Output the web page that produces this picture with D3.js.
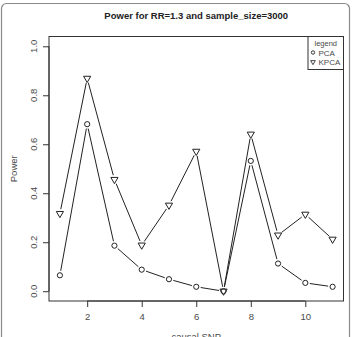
<!DOCTYPE html>
<html>
<head>
<meta charset="utf-8">
<script src="https://cdn.jsdelivr.net/npm/d3@7"></script>
<style>
  body { margin: 0; background: #fff; }
  text { font-family: "Liberation Sans", Arial, sans-serif; }
</style>
</head>
<body>
<div id="chart"></div>
<script>
// data
var snps = [1, 2, 3, 4, 5, 6, 7, 8, 9, 10, 11];
var pcaPower = [0.065, 0.682, 0.186, 0.088, 0.049, 0.018, 0.0, 0.532, 0.113, 0.034, 0.018];
var kpcaPower = [0.317, 0.869, 0.456, 0.188, 0.351, 0.571, 0.0, 0.641, 0.229, 0.314, 0.212];
var xTicks = [2, 4, 6, 8, 10];
var yTicks = [0.0, 0.2, 0.4, 0.6, 0.8, 1.0];
var legendNames = ["PCA", "KPCA"];

var W = 352, H = 337;
var margin = {top: 36.5, right: 8.5, bottom: 36, left: 49};
var width = W - margin.left - margin.right,
    height = H - margin.top - margin.bottom;

var svg = d3.select("#chart").append("svg").attr("width", W).attr("height", H);

// outer frame of the screenshot
svg.append("rect")
    .attr("x", 1.5).attr("y", 3.5).attr("width", 348).attr("height", 345)
    .attr("rx", 5)
    .style("fill", "none").style("stroke", "#8a8a8a").style("stroke-width", 1.2);

// R style 4% padding
var x = d3.scaleLinear().domain([1 - 0.4, 11 + 0.4]).range([0, width]);
var y = d3.scaleLinear().domain([0 - 0.04, 1 + 0.04]).range([height, 0]);

var g = svg.append("g").attr("transform", "translate(" + margin.left + "," + margin.top + ")");

var textColor = "#4a4a4a";

// box
g.append("rect")
    .attr("x", 0).attr("y", 0).attr("width", width).attr("height", height)
    .style("fill", "none").style("stroke", "#333").style("stroke-width", 1);

// x axis
var x_g = g.append("g")
    .attr("transform", "translate(0," + height + ")")
    .call(d3.axisBottom(x).tickValues(xTicks).tickSize(6).tickPadding(6).tickFormat(d3.format("d")));
x_g.select(".domain").attr("d", "M" + x(2) + ",0H" + x(10)).style("stroke", "#333");
x_g.selectAll("line").style("stroke", "#333");
x_g.selectAll("text").style("fill", textColor).style("font-size", "9.5px")
    .style("font-family", "'Liberation Sans', Arial, sans-serif");

// y axis: ticks from d3, labels drawn rotated as in base R
var y_g = g.append("g")
    .call(d3.axisLeft(y).tickValues(yTicks).tickSize(6).tickFormat(""));
y_g.select(".domain").attr("d", "M0," + y(0) + "V" + y(1)).style("stroke", "#333");
y_g.selectAll("line").style("stroke", "#333");
svg.selectAll(".ylab").data(yTicks).enter().append("text")
    .attr("class", "ylab")
    .attr("x", 0).attr("y", 0)
    .attr("transform", function (d) {
        return "translate(" + (margin.left - 12) + "," + (margin.top + y(d)) + ") rotate(-90)";
    })
    .attr("text-anchor", "middle")
    .style("fill", textColor).style("font-size", "9.5px")
    .text(function (d) { return d3.format(".1f")(d); });

// title and axis labels
svg.append("text")
    .attr("x", margin.left + width / 2).attr("y", 19)
    .attr("text-anchor", "middle")
    .style("font-weight", "bold").style("font-size", "9.5px").style("fill", "#222")
    .text("Power for RR=1.3 and sample_size=3000");

svg.append("text")
    .attr("transform", "translate(17," + (margin.top + height / 2) + ") rotate(-90)")
    .attr("text-anchor", "middle")
    .style("font-size", "9.5px").style("fill", textColor)
    .text("Power");

svg.append("text")
    .attr("x", margin.left + width / 2).attr("y", 340)
    .attr("text-anchor", "middle")
    .style("font-size", "9.5px").style("fill", textColor)
    .text("causal SNP");

// type = "b": segments with a gap around each point
function drawSegments(values, gap) {
    for (var i = 0; i < values.length - 1; i++) {
        var x0 = x(snps[i]), y0 = y(values[i]), x1 = x(snps[i + 1]), y1 = y(values[i + 1]);
        var dx = x1 - x0, dy = y1 - y0, len = Math.sqrt(dx * dx + dy * dy);
        if (len <= 2 * gap) continue;
        var ux = dx / len, uy = dy / len;
        g.append("line")
            .attr("x1", x0 + ux * gap).attr("y1", y0 + uy * gap)
            .attr("x2", x1 - ux * gap).attr("y2", y1 - uy * gap)
            .style("stroke", "#222").style("stroke-width", 1);
    }
}
drawSegments(pcaPower, 4.5);
drawSegments(kpcaPower, 4.5);

var tri = "M-3.6,-2.1L3.6,-2.1L0,4.1Z";

g.selectAll(".pca").data(pcaPower).enter().append("circle")
    .attr("class", "pca")
    .attr("cx", function (d, i) { return x(snps[i]); })
    .attr("cy", function (d) { return y(d); })
    .attr("r", 2.6)
    .style("fill", "none").style("stroke", "#222").style("stroke-width", 1);

g.selectAll(".kpca").data(kpcaPower).enter().append("path")
    .attr("class", "kpca")
    .attr("transform", function (d, i) { return "translate(" + x(snps[i]) + "," + y(d) + ")"; })
    .attr("d", tri)
    .style("fill", "none").style("stroke", "#222").style("stroke-width", 1);

// legend
var lg = g.append("g").attr("transform", "translate(" + (width - 35.5) + ",0)");
lg.append("rect")
    .attr("x", 0).attr("y", 0).attr("width", 35.5).attr("height", 33)
    .style("fill", "#fff").style("stroke", "#333").style("stroke-width", 1);
lg.append("text")
    .attr("x", 17.75).attr("y", 9)
    .attr("text-anchor", "middle")
    .style("font-size", "7.5px").style("fill", textColor)
    .text("legend");
legendNames.forEach(function (name, i) {
    var ly = 16 + i * 9.5;
    if (i === 0) {
        lg.append("circle").attr("cx", 5).attr("cy", ly).attr("r", 1.7)
            .style("fill", "none").style("stroke", "#222").style("stroke-width", 0.9);
    } else {
        lg.append("path").attr("transform", "translate(5," + ly + ") scale(0.65)").attr("d", tri)
            .style("fill", "none").style("stroke", "#222").style("stroke-width", 1.3);
    }
    lg.append("text")
        .attr("x", 10.5).attr("y", ly + 3)
        .style("font-size", "8px").style("fill", textColor)
        .text(name);
});
</script>
</body>
</html>
